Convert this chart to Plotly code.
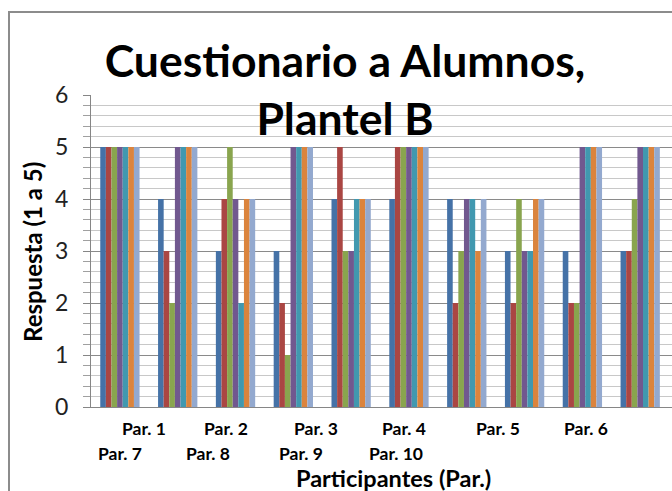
import plotly.graph_objects as go

# Data
participantes = ["Par. 1", "Par. 2", "Par. 3", "Par. 4", "Par. 5",
                 "Par. 6", "Par. 7", "Par. 8", "Par. 9", "Par. 10"]

pregunta_1 = [5, 4, 3, 3, 4, 4, 4, 3, 3, 3]
pregunta_2 = [5, 3, 4, 2, 5, 5, 2, 2, 2, 3]
pregunta_3 = [5, 2, 5, 1, 3, 5, 3, 4, 2, 4]
pregunta_4 = [5, 5, 4, 5, 3, 5, 4, 3, 5, 5]
pregunta_5 = [5, 5, 2, 5, 4, 5, 4, 3, 5, 5]
pregunta_6 = [5, 5, 4, 5, 4, 5, 3, 4, 5, 5]
pregunta_7 = [5, 5, 4, 5, 4, 5, 4, 4, 5, 5]

series = [
    ("Pregunta 1", pregunta_1, "#4572A7"),
    ("Pregunta 2", pregunta_2, "#AA4643"),
    ("Pregunta 3", pregunta_3, "#89A54E"),
    ("Pregunta 4", pregunta_4, "#71588F"),
    ("Pregunta 5", pregunta_5, "#4198AF"),
    ("Pregunta 6", pregunta_6, "#DB843D"),
    ("Pregunta 7", pregunta_7, "#93A9CF"),
]

fig = go.Figure()

for name, values, color in series:
    fig.add_trace(go.Bar(
        x=participantes,
        y=values,
        name=name,
        marker_color=color,
        marker_line_width=0
    ))

# plot area in pixels
left, right, top, bottom = 91, 672, 95, 407
W, H = 672, 491
plot_w = right - left
plot_h = bottom - top

def px_x(px):
    return (px - left) / plot_w

def px_y(py):
    return (bottom - py) / plot_h

font = "Lato, Liberation Sans, sans-serif"

fig.update_layout(
    width=W,
    height=H,
    margin=dict(l=left, r=W - right, t=top, b=H - bottom),
    paper_bgcolor="white",
    plot_bgcolor="white",
    barmode="group",
    bargap=0.32,
    bargroupgap=0,
    showlegend=False,
    font=dict(family=font, color="black"),
    title=dict(
        text="<b>Cuestionario a Alumnos,<br>Plantel B</b>",
        font=dict(size=44.5, family=font, color="black"),
        x=345 / W,
        xanchor="center",
        xref="container",
        y=1 - 77 / H,
        yanchor="top",
        yref="container",
    ),
    xaxis=dict(
        range=[-0.5, 9.55],
        showticklabels=False,
        showgrid=False,
        showline=True,
        linecolor="#868686",
        linewidth=1,
        ticks="",
    ),
    yaxis=dict(
        range=[0, 6],
        dtick=1,
        showline=True,
        linecolor="#868686",
        linewidth=1,
        gridcolor="#8a8a8a",
        gridwidth=1,
        ticks="outside",
        ticklen=7,
        tickcolor="#868686",
        ticklabelstandoff=10,
        tickfont=dict(size=23, color="#222222"),
        zeroline=False,
        minor=dict(
            dtick=0.2,
            showgrid=True,
            gridcolor="#c8c8c8",
            gridwidth=1,
            ticks="outside",
            ticklen=7,
            tickcolor="#a0a0a0",
        ),
    ),
)

# staggered category labels
label_x = [144, 226, 316, 404, 498, 586, 120, 208, 301, 396]
label_y = [428, 428, 428, 428, 428, 428, 453, 453, 453, 453]
for lab, lx, ly in zip(participantes, label_x, label_y):
    fig.add_annotation(
        text="<b>" + lab + "</b>",
        x=px_x(lx), y=px_y(ly),
        xref="paper", yref="paper",
        xanchor="center", yanchor="middle",
        showarrow=False,
        font=dict(size=17.5, family=font, color="black"),
    )

# axis titles
fig.add_annotation(
    text="<b>Participantes (Par.)</b>",
    x=px_x(393), y=px_y(478),
    xref="paper", yref="paper",
    xanchor="center", yanchor="middle",
    showarrow=False,
    font=dict(size=23.5, family=font, color="black"),
)
fig.add_annotation(
    text="<b>Respuesta (1 a 5)</b>",
    x=px_x(32), y=px_y(252),
    xref="paper", yref="paper",
    xanchor="center", yanchor="middle",
    textangle=-90,
    showarrow=False,
    font=dict(size=24, family=font, color="black"),
)

# chart border (cut off at right and bottom)
fig.add_shape(
    type="rect",
    xref="paper", yref="paper",
    x0=px_x(9), x1=px_x(700),
    y0=px_y(520), y1=px_y(12),
    line=dict(color="#8c8c8c", width=2),
    layer="below",
)

fig.write_html(
    "out.html",
    config={"displayModeBar": False},
    post_script="document.body.style.margin='0';",
)
